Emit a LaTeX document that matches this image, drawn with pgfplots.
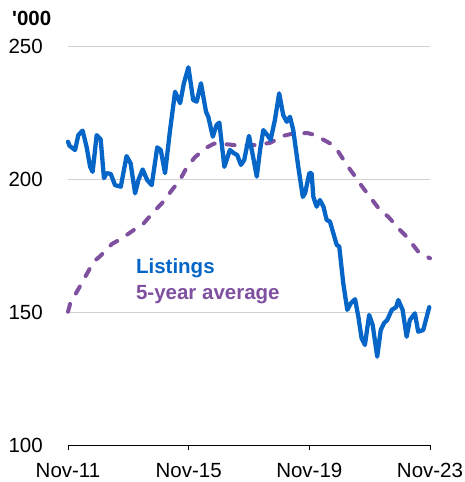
\documentclass[border=0pt]{standalone}
\usepackage{pgfplots}
\pgfplotsset{compat=1.18}
\usepackage{fontspec}
\setmainfont{Liberation Sans}
\newfontfamily\plainsans{Liberation Sans}[Ligatures=TeXOff]
\definecolor{lblue}{RGB}{6,102,200}
\definecolor{lpurple}{RGB}{128,80,160}
\begin{document}
\begin{tikzpicture}
\begin{axis}[
  scale only axis, width=362pt, height=399pt,
  xmin=0, xmax=144, ymin=100, ymax=250,
  axis x line*=bottom, axis y line*=left,
  y axis line style={draw=none},
  x axis line style={-, black, line width=0.9pt},
  xtick={0,48,96,144}, xticklabels={Nov-11,Nov-15,Nov-19,Nov-23},
  ytick={100,150,200,250},
  ymajorgrids, grid style={draw=black!18, line width=0.9pt},
  tick align=outside, major tick length=5pt,
  xtick style={black, line width=0.9pt},
  ytick style={draw=none},
  ticklabel style={font=\fontsize{20.5}{24}\selectfont},
  /pgf/number format/assume math mode=true,
  yticklabel style={inner sep=0pt, anchor=east, xshift=-20pt},
  xticklabel style={inner sep=0pt, anchor=north, yshift=-13pt},
  clip=false,
]
\addplot[lpurple, line width=4pt, dash pattern=on 8pt off 12pt, line cap=round, line join=round] coordinates {
(0,150.1) (0.9,153.3) (4.3,158.9) (6.9,163.3) (10.2,168.9) (12.8,171) (17.5,175.6)
(21.5,177.7) (26.1,180.8) (30.1,183.3) (34.1,187.7) (37.4,190.9) (41.4,195.9)
(44.5,199.6) (47.2,204.3) (50.5,208.2) (54.9,211.7) (58.1,213.3) (63.8,213)
(68.4,212.5) (75.1,212.8) (80.4,213.6) (85.6,216.2) (90.3,217.3) (95.6,217.2)
(98.3,216.5) (104.2,213.4) (107.5,210.3) (110.9,205.3) (113.5,201.9) (117.5,196.5)
(120.1,193.3) (124.1,188.3) (127.4,185.8) (132.1,180.8) (134.7,178.3) (139.3,172.7)
(142.7,170.8) (144,170.2)
};
\addplot[lblue, line width=4.3pt, line join=round, line cap=round] coordinates {
(0,214) (0.6,212.5) (2.8,210.9) (4.1,216.5) (5.8,218.2) (7.4,212.1) (8.8,204.6)
(9.8,202.7) (11.4,216.5) (13,214.9) (14.3,200.3) (15.4,202.2) (17,201.9) (18.7,197.7)
(21,197.1) (23.3,208.6) (24.9,205.9) (26.7,194.6) (28,199.6) (29.7,203.6) (31.5,199.6)
(33.3,197.7) (35.5,211.9) (36.9,210.9) (38.6,202.2) (40.6,218.4) (42.6,232.8)
(44.6,228.5) (46.1,236) (47.9,242) (49.8,229.7) (51.2,229.1) (52.9,236) (54.9,225.3)
(55.8,223.4) (57.6,215.9) (59.1,220.3) (60.2,221.2) (62.2,204.6) (64.4,210.9)
(66,209.7) (67.3,209) (68.8,205.3) (70.1,207.1) (72,216.2) (73.5,209) (75.1,200.9)
(76.4,210.9) (77.7,218.4) (79.3,216.5) (80.6,214.7) (82.3,222.2) (84,232.2)
(85.6,224.1) (87,221.5) (88.3,223.4) (89.6,218.4) (91.6,204.6) (93.4,193.3)
(94.3,194.6) (96,202.2) (96.9,202.2) (97.6,193.3) (98.9,189.6) (100.2,192.1)
(101.6,189.6) (102.9,184.6) (104.2,184) (106.9,175.2) (107.9,174.6) (109.5,160.8)
(111.1,150.8) (112.5,153.3) (114.2,154.8) (115.5,148.2) (116.8,140.1) (118.1,137.6)
(119.8,148.9) (121.2,145.1) (123,133.2) (124.4,143.2) (125.7,145.8) (127,147)
(128.8,150.8) (130.5,151.8) (131.4,154.5) (133.1,150.8) (134.7,140.7) (136,147)
(138,149.5) (139.3,142.6) (141.3,143.2) (142.7,148.2) (143.7,151.8)
};
\node[anchor=west, inner sep=0pt, text=lblue, font=\fontsize{20.5}{24}\selectfont\bfseries] at (axis cs:27,166.5) {Listings};
\node[anchor=west, inner sep=0pt, text=lpurple, font=\fontsize{20.5}{24}\selectfont\bfseries] at (axis cs:27,156.4) {5-year average};
\node[anchor=south west, inner sep=0pt, font=\plainsans\fontsize{20.5}{24}\selectfont\bfseries] at ([xshift=-56pt, yshift=20pt]axis cs:0,250) {'000};
\coordinate (o) at (axis cs:0,100);
\end{axis}
\pgfresetboundingbox
\useasboundingbox ([shift={(-68pt,-37pt)}]o) rectangle ([shift={(397pt,445pt)}]o);
\end{tikzpicture}
\end{document}
